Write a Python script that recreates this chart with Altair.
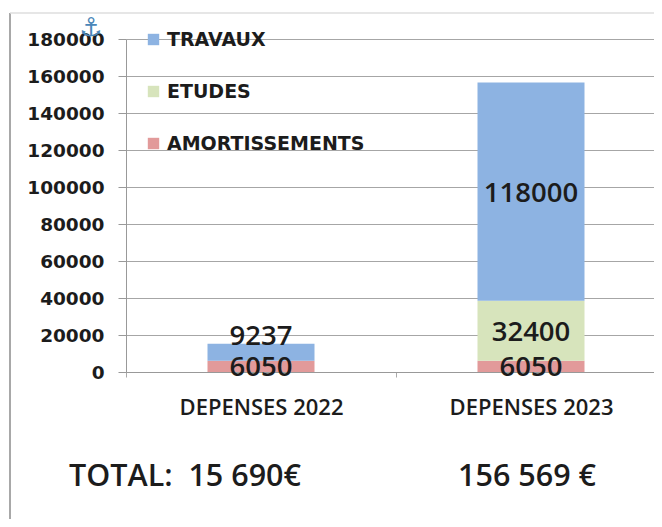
import altair as alt
import pandas as pd

categories = ["DEPENSES 2022", "DEPENSES 2023"]
series = ["TRAVAUX", "ETUDES", "AMORTISSEMENTS"]
colors = ["#8DB3E2", "#D7E4BC", "#E29A9A"]
travaux = [9237, 118000]
etudes = [None, 32400]
amortissements = [6050, 6050]
y_ticks = [0, 20000, 40000, 60000, 80000, 100000, 120000, 140000, 160000, 180000]
totals = ["TOTAL:\u00a0 15 690€", "156 569 €"]
FONT = "Open Sans"
INK = "#1c1c1c"

rows = []
for name, vals, rank in [("AMORTISSEMENTS", amortissements, 0), ("ETUDES", etudes, 1), ("TRAVAUX", travaux, 2)]:
    for c, v in zip(categories, vals):
        if v is not None:
            rows.append({"cat": c, "serie": name, "value": v, "rank": rank})
df = pd.DataFrame(rows)

x_scale = alt.Scale(domain=categories, range=[0, 540], paddingInner=0, paddingOuter=0)
y_scale = alt.Scale(domain=[0, 180000], nice=False)
x_axis = alt.Axis(
    labelAngle=0, labelFontSize=22, labelFontWeight=600, labelFont=FONT, labelColor=INK,
    labelPadding=20, tickBand="extent", tickSize=5, tickColor="#aaaaaa",
    domainColor="#999999", grid=False,
)
y_axis = alt.Axis(
    values=y_ticks, format="d", labelFontSize=18.5, labelFontWeight="bold", labelFont="DejaVu Sans",
    labelColor=INK, labelPadding=14, tickSize=8, tickColor="#999999", labelOverlap=False,
    domainColor="#999999", gridColor="#a6a6a6", grid=True,
)

x = alt.X("cat:N", sort=categories, title=None, scale=x_scale, axis=x_axis)
y = alt.Y("value:Q", stack="zero", title=None, scale=y_scale, axis=y_axis)

bars = alt.Chart(df).mark_bar(size=107).encode(
    x=x,
    y=y,
    color=alt.Color(
        "serie:N",
        scale=alt.Scale(domain=series, range=colors),
        legend=alt.Legend(
            title=None, orient="none", legendX=18, legendY=-9, symbolType="square", symbolSize=130,
            symbolStrokeWidth=0, labelFontSize=19, labelFontWeight="bold", labelFont="DejaVu Sans",
            labelColor=INK, rowPadding=32, labelOffset=4, labelLimit=400,
        ),
    ),
    order=alt.Order("rank:Q"),
)

stacked = (
    alt.Chart(df)
    .transform_stack(stack="value", sort=[alt.SortField("rank")], groupby=["cat"], as_=["y0", "y1"])
    .transform_calculate(mid="(datum.y0 + datum.y1) / 2")
)
lab_x = alt.X("cat:N", sort=categories, title=None, scale=x_scale, axis=x_axis)
lab_y = alt.Y("mid:Q", title=None, scale=y_scale, axis=y_axis)
labels = stacked.transform_filter("datum.value != 9237 && datum.value != 6050").mark_text(
    fontSize=27.5, fontWeight=600, font=FONT, color=INK, dy=2
).encode(x=lab_x, y=lab_y, text=alt.Text("value:Q", format="d"))
label_low = stacked.transform_filter("datum.value == 6050").mark_text(
    fontSize=27.5, fontWeight=600, font=FONT, color=INK, dy=2
).encode(x=lab_x, y=lab_y, text=alt.Text("value:Q", format="d"))
label_top = stacked.transform_filter("datum.value == 9237").mark_text(
    fontSize=27.5, fontWeight=600, font=FONT, color=INK, dy=-15
).encode(x=lab_x, y=lab_y, text=alt.Text("value:Q", format="d"))

total_df = pd.DataFrame({"t": totals, "px": [59, 401]})
total_text = alt.Chart(total_df).mark_text(
    fontSize=30.5, fontWeight=600, font=FONT, color=INK
).encode(x=alt.X("px:Q", scale=None), y=alt.value(438), text="t:N")

anchor = alt.Chart(pd.DataFrame({"t": ["⚓"]})).mark_text(
    fontSize=26, font="DejaVu Sans", color="#4a86b8"
).encode(x=alt.value(-35), y=alt.value(-11), text="t:N")

frame_left = alt.Chart(pd.DataFrame({"a": [0]})).mark_rule(color="#a8a8a8", strokeWidth=2).encode(
    x=alt.value(-116), y=alt.value(-26), y2=alt.value(480)
)
frame_top = alt.Chart(pd.DataFrame({"a": [0]})).mark_rule(color="#dedede", strokeWidth=1.5).encode(
    y=alt.value(-26), x=alt.value(-116), x2=alt.value(528)
)

chart = (
    alt.layer(frame_left, frame_top, bars, labels, label_low, label_top, total_text, anchor)
    .properties(
        width=528,
        height=333,
        autosize=alt.AutoSizeParams(type="none"),
        padding={"left": 118, "top": 31, "right": 0, "bottom": 147},
    )
    .configure_view(stroke=None)
)
chart.save("out.html", embed_options={"renderer": "svg", "actions": False})
